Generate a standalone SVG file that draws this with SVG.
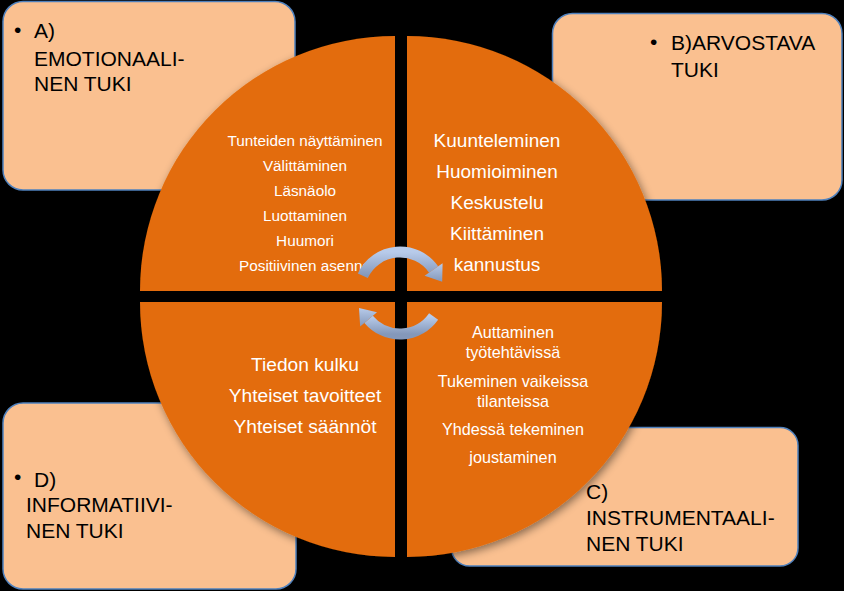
<svg xmlns="http://www.w3.org/2000/svg" width="844" height="591" viewBox="0 0 844 591">
<defs>
<style>
.box{fill:#FAC090;stroke:#4F81BD;stroke-width:1.5}
.lbl{font-family:"Liberation Sans",Arial,sans-serif;font-size:21px;fill:#000}
.q{fill:#E36C0A}
.w{font-family:"Liberation Sans",Arial,sans-serif;fill:#FFFFFF;text-anchor:middle}
.arc{fill:none;stroke:url(#ag);stroke-width:11}
.head{fill:url(#ag)}
</style>
<linearGradient id="ag" x1="0" y1="0" x2="0" y2="1">
<stop offset="0" stop-color="#B8CBEA"/>
<stop offset="1" stop-color="#8498BA"/>
</linearGradient>
<filter id="sh" x="-10%" y="-10%" width="120%" height="120%">
<feDropShadow dx="2" dy="3" stdDeviation="4" flood-color="#000" flood-opacity="0.45"/>
</filter>
</defs>
<rect width="844" height="591" fill="#000"/>
<g id="boxA">
<rect class="box" x="3" y="1.5" width="292" height="188.5" rx="20"/>
<text class="lbl" x="14" y="37">•</text>
<text class="lbl" x="34" y="38">A)</text>
<text class="lbl" x="34" y="66">EMOTIONAALI-</text>
<text class="lbl" x="34" y="91">NEN TUKI</text>
</g>
<g id="boxB">
<rect class="box" x="552.5" y="13.5" width="289.5" height="186.5" rx="20"/>
<text class="lbl" x="650" y="49">•</text>
<text class="lbl" x="671" y="50">B)ARVOSTAVA</text>
<text class="lbl" x="671" y="77">TUKI</text>
</g>
<g id="boxD">
<rect class="box" x="3" y="403" width="293" height="186" rx="20"/>
<text class="lbl" x="14" y="484">•</text>
<text class="lbl" x="34" y="487">D)</text>
<text class="lbl" x="26" y="512">INFORMATIIVI-</text>
<text class="lbl" x="26" y="538">NEN TUKI</text>
</g>
<g id="boxC">
<rect class="box" x="451.5" y="427.5" width="346.5" height="138.5" rx="18"/>
<text class="lbl" x="586" y="499">C)</text>
<text class="lbl" x="586" y="525">INSTRUMENTAALI-</text>
<text class="lbl" x="586" y="551">NEN TUKI</text>
</g>
<g id="quadTL">
<path class="q" filter="url(#sh)" d="M395,291 L140,291 A255,255 0 0 1 395,36 Z"/>
<g class="w" font-size="15.3">
<text x="305" y="146">Tunteiden näyttäminen</text>
<text x="305" y="171">Välittäminen</text>
<text x="305" y="196">Läsnäolo</text>
<text x="305" y="221">Luottaminen</text>
<text x="305" y="246">Huumori</text>
<text x="305" y="271">Positiivinen asenne</text>
</g>
</g>
<g id="quadTR">
<path class="q" filter="url(#sh)" d="M407,291 L407,36 A255,255 0 0 1 662,291 Z"/>
<g class="w" font-size="19">
<text x="497" y="147">Kuunteleminen</text>
<text x="497" y="178">Huomioiminen</text>
<text x="497" y="209">Keskustelu</text>
<text x="497" y="240">Kiittäminen</text>
<text x="497" y="271">kannustus</text>
</g>
</g>
<g id="quadBL">
<path class="q" filter="url(#sh)" d="M395,302 L395,557 A255,255 0 0 1 140,302 Z"/>
<g class="w" font-size="19.2">
<text x="305" y="371">Tiedon kulku</text>
<text x="305" y="402">Yhteiset tavoitteet</text>
<text x="305" y="433">Yhteiset säännöt</text>
</g>
</g>
<g id="quadBR">
<path class="q" filter="url(#sh)" d="M407,302 L662,302 A255,255 0 0 1 407,557 Z"/>
<g class="w" font-size="16.2">
<text x="513" y="338">Auttaminen</text>
<text x="513" y="358">työtehtävissä</text>
<text x="513" y="387">Tukeminen vaikeissa</text>
<text x="513" y="407">tilanteissa</text>
<text x="513" y="435">Yhdessä tekeminen</text>
<text x="513" y="463">joustaminen</text>
</g>
</g>
<g id="connectors">
<path class="arc" d="M362.8,275.7 A41,41 0 0 1 433.6,269.5"/>
<polygon class="head" points="442.6,263.2 424.6,275.8 442.2,281.8"/>
<path class="arc" d="M433.6,316.5 A41,41 0 0 1 368.6,319.4"/>
<polygon class="head" points="360.2,326.5 377,312.3 359,307.9"/>
</g>
</svg>
